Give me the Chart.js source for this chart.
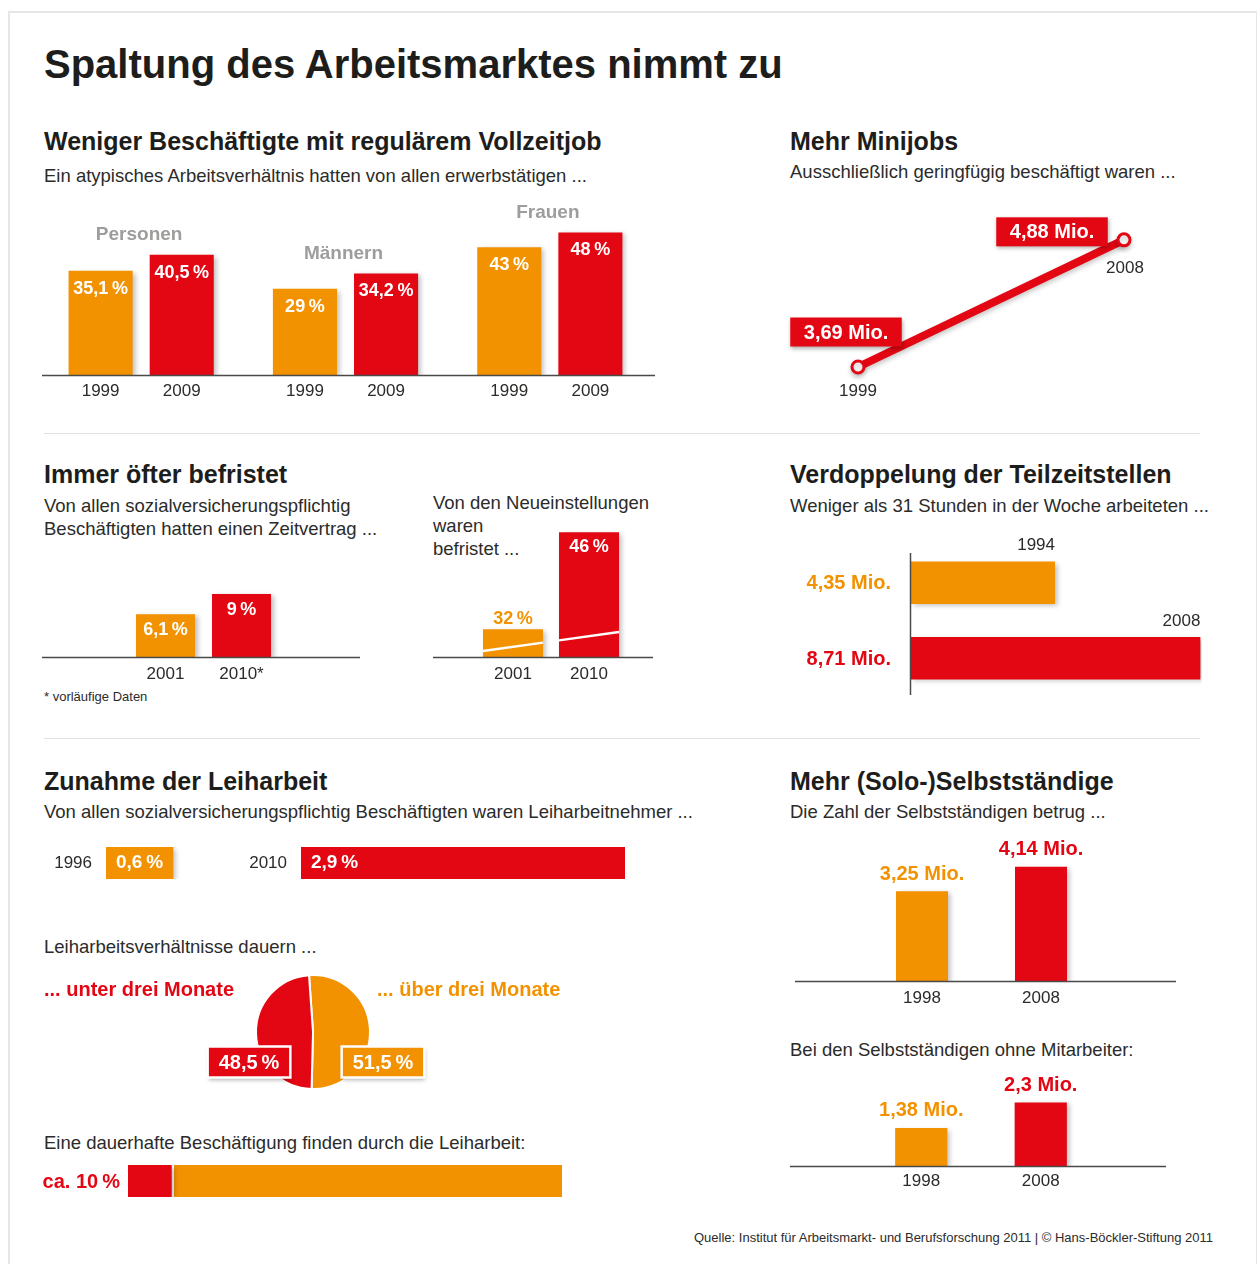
<!DOCTYPE html>
<html lang="de">
<head>
<meta charset="utf-8">
<title>Spaltung des Arbeitsmarktes nimmt zu</title>
<script src="https://cdn.jsdelivr.net/npm/chart.js@4.4.1/dist/chart.umd.min.js"></script>
<style>
  body { margin: 0; width: 1257px; height: 1264px; position: relative; overflow: hidden; background: #fff;
         font-family: "Liberation Sans", Arial, sans-serif; color: #1d1d1b; }
  .frame { position: absolute; left: 8px; top: 11px; width: 1246px; height: 1270px; border: 2px solid #e6e6e6; }
  .t { position: absolute; white-space: nowrap; line-height: 1; }
  .h1 { font-weight: bold; font-size: 40px; }
  .h2 { font-weight: bold; font-size: 25px; }
  .sub { font-size: 18.5px; color: #2b2b2a; }
  .rule { position: absolute; left: 44px; width: 1156px; height: 1px; background: #e2e2e2; }
  canvas { position: absolute; }
</style>
</head>
<body>
<div class="frame"></div>

<div class="t h1" style="left:44px;top:44px">Spaltung des Arbeitsmarktes nimmt zu</div>

<div class="t h2" style="left:44px;top:129px">Weniger Beschäftigte mit regulärem Vollzeitjob</div>
<div class="t sub" style="left:44px;top:167px">Ein atypisches Arbeitsverhältnis hatten von allen erwerbstätigen ...</div>
<div class="t h2" style="left:790px;top:129px">Mehr Minijobs</div>
<div class="t sub" style="left:790px;top:163px">Ausschließlich geringfügig beschäftigt waren ...</div>

<div class="rule" style="top:433px"></div>

<div class="t h2" style="left:44px;top:462px">Immer öfter befristet</div>
<div class="t sub" style="left:44px;top:497px">Von allen sozialversicherungspflichtig</div>
<div class="t sub" style="left:44px;top:520px">Beschäftigten hatten einen Zeitvertrag ...</div>
<div class="t sub" style="left:433px;top:494px">Von den Neueinstellungen</div>
<div class="t sub" style="left:433px;top:517px">waren</div>
<div class="t sub" style="left:433px;top:540px">befristet ...</div>
<div class="t" style="left:44px;top:690px;font-size:13px;color:#2b2b2a">* vorläufige Daten</div>
<div class="t h2" style="left:790px;top:462px">Verdoppelung der Teilzeitstellen</div>
<div class="t sub" style="left:790px;top:497px">Weniger als 31 Stunden in der Woche arbeiteten ...</div>

<div class="rule" style="top:738px"></div>

<div class="t h2" style="left:44px;top:769px">Zunahme der Leiharbeit</div>
<div class="t sub" style="left:44px;top:803px">Von allen sozialversicherungspflichtig Beschäftigten waren Leiharbeitnehmer ...</div>
<div class="t sub" style="left:44px;top:938px">Leiharbeitsverhältnisse dauern ...</div>
<div class="t sub" style="left:44px;top:1134px">Eine dauerhafte Beschäftigung finden durch die Leiharbeit:</div>
<div class="t h2" style="left:790px;top:769px">Mehr (Solo-)Selbstständige</div>
<div class="t sub" style="left:790px;top:803px">Die Zahl der Selbstständigen betrug ...</div>
<div class="t sub" style="left:790px;top:1041px">Bei den Selbstständigen ohne Mitarbeiter:</div>

<div class="t" style="right:44px;top:1231px;font-size:13px;color:#2b2b2a">Quelle: Institut für Arbeitsmarkt- und Berufsforschung 2011 | © Hans-Böckler-Stiftung 2011</div>

<canvas id="atyp" width="680" height="220" style="left:0;top:190px"></canvas>
<canvas id="mini" width="440" height="220" style="left:770px;top:200px"></canvas>
<canvas id="befr" width="340" height="160" style="left:30px;top:540px"></canvas>
<canvas id="neu" width="250" height="210" style="left:420px;top:490px"></canvas>
<canvas id="teilzeit" width="440" height="180" style="left:780px;top:530px"></canvas>
<canvas id="leih1" width="220" height="70" style="left:30px;top:830px"></canvas>
<canvas id="leih2" width="410" height="70" style="left:230px;top:830px"></canvas>
<canvas id="dauer" width="560" height="150" style="left:30px;top:960px"></canvas>
<canvas id="uebern" width="560" height="60" style="left:30px;top:1150px"></canvas>
<canvas id="selb" width="420" height="190" style="left:780px;top:830px"></canvas>
<canvas id="solo" width="420" height="130" style="left:780px;top:1070px"></canvas>

<script>
const ORANGE = '#f39200';
const RED = '#e30613';
const FONT = '"Liberation Sans", Arial, sans-serif';

// Daten
const groups = ['Personen', 'Männern', 'Frauen'];
const atypYears = ['1999', '2009'];
const atyp1999 = [35.1, 29, 43];
const atyp2009 = [40.5, 34.2, 48];

const miniYears = ['1999', '2008'];
const miniValues = [3.69, 4.88];

const befrYears = ['2001', '2010*'];
const befrShare = [6.1, 9];

const neuYears = ['2001', '2010'];
const neuShare = [32, 46];

const tzYears = ['1994', '2008'];
const tzValues = [4.35, 8.71];

const leihYears = ['1996', '2010'];
const leihShare = [0.6, 2.9];

const dauerLabels = ['... über drei Monate', '... unter drei Monate'];
const dauerShare = [51.5, 48.5];

const uebernLabels = ['dauerhaft', 'nicht dauerhaft'];
const uebernShare = [10, 90];

const selbYears = ['1998', '2008'];
const selbAll = [3.25, 4.14];
const selbSolo = [1.38, 2.3];

// Hilfsfunktionen
const num = v => String(v).replace('.', ',');
const pct = v => num(v) + '\u2009%';
const mio = v => num(v) + ' Mio.';

function text(ctx, s, x, y, font, color, align) {
  ctx.save();
  ctx.font = font;
  ctx.fillStyle = color;
  ctx.textAlign = align || 'center';
  ctx.textBaseline = 'middle';
  ctx.fillText(s, x, y);
  ctx.restore();
}

function tag(ctx, s, cx, cy, fill, frame) {
  ctx.save();
  ctx.font = 'bold 20px ' + FONT;
  const w = ctx.measureText(s).width + (frame ? 22 : 27);
  const h = frame ? 31 : 29;
  ctx.shadowColor = 'rgba(0,0,0,0.3)';
  ctx.shadowBlur = 4;
  ctx.shadowOffsetX = 1;
  ctx.shadowOffsetY = 2;
  ctx.fillStyle = fill;
  ctx.fillRect(cx - w / 2, cy - h / 2, w, h);
  ctx.shadowColor = 'transparent';
  if (frame) {
    ctx.strokeStyle = '#fff';
    ctx.lineWidth = 2.5;
    ctx.strokeRect(cx - w / 2, cy - h / 2, w, h);
  }
  ctx.fillStyle = '#fff';
  ctx.textAlign = 'center';
  ctx.textBaseline = 'middle';
  ctx.fillText(s, cx, cy + 1);
  ctx.restore();
}

function opts(pad, x, y, extra) {
  return Object.assign({
    responsive: false,
    animation: false,
    events: [],
    layout: { padding: pad },
    plugins: { legend: { display: false }, tooltip: { enabled: false } },
    scales: {
      x: Object.assign({ display: false }, x),
      y: Object.assign({ display: false }, y)
    }
  }, extra || {});
}

// Schatten unter den Balken
const shadow = {
  id: 'shadow',
  beforeDatasetsDraw(chart) {
    const c = chart.ctx;
    c.save();
    c.shadowColor = 'rgba(0,0,0,0.25)';
    c.shadowBlur = 5;
    c.shadowOffsetX = 3;
    c.shadowOffsetY = 2;
  },
  afterDatasetsDraw(chart) { chart.ctx.restore(); }
};

// Grundlinie, breiter als die Zeichenfläche
const baseline = (x1, x2) => ({
  id: 'baseline',
  afterDatasetsDraw(chart) {
    const c = chart.ctx;
    const y = Math.round(chart.chartArea.bottom) + 0.5;
    c.save();
    c.strokeStyle = '#4a4a49';
    c.lineWidth = 1.5;
    c.beginPath();
    c.moveTo(x1, y);
    c.lineTo(x2, y);
    c.stroke();
    c.restore();
  }
});

// Jahreszahlen unter den Balken
const yearsBelow = (names, dy, perDataset) => ({
  id: 'yearsBelow',
  afterDraw(chart) {
    chart.data.datasets.forEach((ds, di) => {
      chart.getDatasetMeta(di).data.forEach((bar, i) => {
        text(chart.ctx, perDataset ? names[di] : names[i], bar.x, chart.chartArea.bottom + dy, '17px ' + FONT, '#2b2b2a');
      });
    });
  }
});

// Werte in oder über den Balken
const valueLabels = (fmt, inside, dy) => ({
  id: 'valueLabels',
  afterDraw(chart) {
    chart.data.datasets.forEach((ds, di) => {
      chart.getDatasetMeta(di).data.forEach((bar, i) => {
        const col = Array.isArray(ds.backgroundColor) ? ds.backgroundColor[i] : ds.backgroundColor;
        if (inside) {
          text(chart.ctx, fmt(ds.data[i]), bar.x, bar.y + dy, 'bold 18px ' + FONT, '#fff');
        } else {
          text(chart.ctx, fmt(ds.data[i]), bar.x, bar.y - dy, 'bold 20px ' + FONT, col);
        }
      });
    });
  }
});

// 1) Atypische Beschäftigung
new Chart(document.getElementById('atyp'), {
  type: 'bar',
  data: {
    labels: groups,
    datasets: [
      { label: atypYears[0], data: atyp1999, backgroundColor: ORANGE, categoryPercentage: 0.794, barPercentage: 0.79 },
      { label: atypYears[1], data: atyp2009, backgroundColor: RED, categoryPercentage: 0.794, barPercentage: 0.79 }
    ]
  },
  options: opts({ left: 39, right: 28, top: 36.5, bottom: 35 }, {}, { min: 0, max: 50 }),
  plugins: [shadow, baseline(42, 655), yearsBelow(atypYears, 16, true), valueLabels(pct, true, 18), {
    id: 'groupNames',
    afterDraw(chart) {
      const m0 = chart.getDatasetMeta(0).data, m1 = chart.getDatasetMeta(1).data;
      chart.data.labels.forEach((name, i) => {
        const top = Math.min(m0[i].y, m1[i].y);
        text(chart.ctx, name, chart.scales.x.getPixelForValue(i) - 2, top - 20, 'bold 19px ' + FONT, '#9d9d9c');
      });
    }
  }]
});

// 2) Minijobs
new Chart(document.getElementById('mini'), {
  type: 'line',
  data: {
    labels: miniYears,
    datasets: [{
      data: miniValues, borderColor: RED, borderWidth: 8, clip: false,
      pointRadius: 6, pointBorderWidth: 3, pointBackgroundColor: '#fff', pointBorderColor: RED
    }]
  },
  options: opts({ left: 88, right: 86, top: 27, bottom: 22 }, { offset: false }, { min: 3.4, max: 5.0 }),
  plugins: [{
    id: 'lineShadow',
    beforeDatasetsDraw(chart) {
      const c = chart.ctx;
      c.save();
      c.shadowColor = 'rgba(0,0,0,0.22)';
      c.shadowBlur = 5;
      c.shadowOffsetY = 3;
    },
    afterDatasetsDraw(chart) { chart.ctx.restore(); }
  }, {
    id: 'miniLabels',
    afterDraw(chart) {
      const pts = chart.getDatasetMeta(0).data;
      const tagOff = [[-12, -35], [-72, -8]];
      const yearOff = [[0, 24], [1, 28]];
      pts.forEach((p, i) => {
        tag(chart.ctx, mio(miniValues[i]), p.x + tagOff[i][0], p.y + tagOff[i][1], RED, false);
        text(chart.ctx, chart.data.labels[i], p.x + yearOff[i][0], p.y + yearOff[i][1], '17px ' + FONT, '#2b2b2a');
      });
    }
  }]
});

// 3) Befristete Verträge
new Chart(document.getElementById('befr'), {
  type: 'bar',
  data: {
    labels: befrYears,
    datasets: [{ data: befrShare, backgroundColor: [ORANGE, RED], categoryPercentage: 1, barPercentage: 0.776 }]
  },
  options: opts({ left: 97.5, right: 90.5, top: 47, bottom: 43 }, {}, { min: 0, max: 10 }),
  plugins: [shadow, baseline(12, 330), yearsBelow(befrYears, 17, false), valueLabels(pct, true, 16)]
});

// 4) Befristete Neueinstellungen (Achse unterbrochen)
new Chart(document.getElementById('neu'), {
  type: 'bar',
  data: {
    labels: neuYears,
    datasets: [{ data: neuShare, backgroundColor: [ORANGE, RED], categoryPercentage: 1, barPercentage: 0.79 }]
  },
  options: opts({ left: 55, right: 43, top: 28.4, bottom: 43 }, {}, { min: 28, max: 48 }),
  plugins: [shadow, baseline(13, 233), yearsBelow(neuYears, 17, false), {
    id: 'neuLabels',
    afterDraw(chart) {
      const c = chart.ctx;
      const bars = chart.getDatasetMeta(0).data;
      const b = chart.chartArea.bottom;
      // Bruchlinie
      const x0 = bars[0].x - bars[0].width / 2, x1 = bars[1].x + bars[1].width / 2;
      const yAt = x => b - 6 - (x - x0) / (x1 - x0) * 19;
      c.save();
      c.strokeStyle = '#fff';
      c.lineWidth = 2.5;
      bars.forEach(bar => {
        const l = bar.x - bar.width / 2, r = bar.x + bar.width / 2;
        c.beginPath();
        c.moveTo(l, yAt(l));
        c.lineTo(r, yAt(r));
        c.stroke();
      });
      c.restore();
      text(c, pct(neuShare[0]), bars[0].x, bars[0].y - 10, 'bold 18px ' + FONT, ORANGE);
      text(c, pct(neuShare[1]), bars[1].x, bars[1].y + 15, 'bold 18px ' + FONT, '#fff');
    }
  }]
});

// 5) Teilzeit
new Chart(document.getElementById('teilzeit'), {
  type: 'bar',
  data: {
    labels: tzYears,
    datasets: [{ data: tzValues, backgroundColor: [ORANGE, RED], categoryPercentage: 0.56, barPercentage: 1 }]
  },
  options: opts({ left: 130, right: 18.3, top: 15, bottom: 14 }, { min: 0, max: 8.75 }, {}, { indexAxis: 'y' }),
  plugins: [shadow, {
    id: 'tzLabels',
    afterDraw(chart) {
      const c = chart.ctx;
      const x = Math.round(chart.chartArea.left) + 0.5;
      c.save();
      c.strokeStyle = '#4a4a49';
      c.lineWidth = 1.5;
      c.beginPath();
      c.moveTo(x, 23);
      c.lineTo(x, 165);
      c.stroke();
      c.restore();
      const cols = [ORANGE, RED];
      chart.getDatasetMeta(0).data.forEach((bar, i) => {
        text(c, mio(tzValues[i]), chart.chartArea.left - 19, bar.y + 1, 'bold 20px ' + FONT, cols[i], 'right');
        text(c, chart.data.labels[i], bar.x, bar.y - 37, '17px ' + FONT, '#2b2b2a', 'right');
      });
    }
  }]
});

// 6) Leiharbeit, zwei Balken mit gleichem Maßstab
const leihLabels = {
  id: 'leihLabels',
  afterDraw(chart) {
    const bar = chart.getDatasetMeta(0).data[0];
    const a = chart.chartArea;
    text(chart.ctx, chart.data.labels[0], a.left - 14, bar.y, '17px ' + FONT, '#2b2b2a', 'right');
    text(chart.ctx, pct(chart.data.datasets[0].data[0]), a.left + 10, bar.y, 'bold 19px ' + FONT, '#fff', 'left');
  }
};
[['leih1', 0, 1.2, { left: 76, right: 10, top: 17, bottom: 21 }, ORANGE],
 ['leih2', 1, 2.9, { left: 71, right: 15, top: 17, bottom: 21 }, RED]].forEach(([id, i, max, pad, col]) => {
  new Chart(document.getElementById(id), {
    type: 'bar',
    data: {
      labels: [leihYears[i]],
      datasets: [{ data: [leihShare[i]], backgroundColor: col, categoryPercentage: 1, barPercentage: 1 }]
    },
    options: opts(pad, { min: 0, max: max }, {}, { indexAxis: 'y' }),
    plugins: [shadow, leihLabels]
  });
});

// 7) Dauer der Leiharbeitsverhältnisse
new Chart(document.getElementById('dauer'), {
  type: 'pie',
  data: {
    labels: dauerLabels,
    datasets: [{ data: dauerShare, backgroundColor: [ORANGE, RED], borderColor: '#fff', borderWidth: 2 }]
  },
  options: Object.assign(opts({ left: 225, right: 219, top: 14, bottom: 20 }), { scales: {}, rotation: -4 }),
  plugins: [{
    id: 'dauerLabels',
    afterDraw(chart) {
      const c = chart.ctx;
      const arc = chart.getDatasetMeta(0).data[0];
      text(c, chart.data.labels[1], 14, 30, 'bold 20px ' + FONT, RED, 'left');
      text(c, chart.data.labels[0], 347, 30, 'bold 20px ' + FONT, ORANGE, 'left');
      tag(c, pct(dauerShare[1]), arc.x - 64, arc.y + 30, RED, true);
      tag(c, pct(dauerShare[0]), arc.x + 70, arc.y + 30, ORANGE, true);
    }
  }]
});

// 8) Übernahme aus der Leiharbeit
new Chart(document.getElementById('uebern'), {
  type: 'bar',
  data: {
    labels: [''],
    datasets: [
      { label: uebernLabels[0], data: [uebernShare[0]], backgroundColor: RED, categoryPercentage: 1, barPercentage: 1 },
      { label: uebernLabels[1], data: [uebernShare[1]], backgroundColor: ORANGE, categoryPercentage: 1, barPercentage: 1,
        borderColor: '#fff', borderWidth: { left: 3, right: 0, top: 0, bottom: 0 }, borderSkipped: false }
    ]
  },
  options: opts({ left: 98, right: 28, top: 15, bottom: 13 }, { min: 0, max: 100, stacked: true }, { stacked: true }, { indexAxis: 'y' }),
  plugins: [shadow, {
    id: 'uebernLabel',
    afterDraw(chart) {
      const bar = chart.getDatasetMeta(0).data[0];
      text(chart.ctx, 'ca. ' + pct(uebernShare[0]), chart.chartArea.left - 8, bar.y + 1, 'bold 20px ' + FONT, RED, 'right');
    }
  }]
});

// 9) Selbstständige
new Chart(document.getElementById('selb'), {
  type: 'bar',
  data: {
    labels: selbYears,
    datasets: [{ data: selbAll, backgroundColor: [ORANGE, RED], categoryPercentage: 1, barPercentage: 0.437 }]
  },
  options: opts({ left: 82.5, right: 99.5, top: 26.8, bottom: 39 }, {}, { min: 0, max: 4.5 }),
  plugins: [shadow, baseline(15, 396), yearsBelow(selbYears, 17, false), valueLabels(mio, false, 17)]
});

new Chart(document.getElementById('solo'), {
  type: 'bar',
  data: {
    labels: selbYears,
    datasets: [{ data: selbSolo, backgroundColor: [ORANGE, RED], categoryPercentage: 1, barPercentage: 0.437 }]
  },
  options: opts({ left: 81.5, right: 99.5, top: 24.2, bottom: 34 }, {}, { min: 0, max: 2.6 }),
  plugins: [shadow, baseline(10, 386), yearsBelow(selbYears, 15, false), valueLabels(mio, false, 17)]
});
</script>
</body>
</html>
